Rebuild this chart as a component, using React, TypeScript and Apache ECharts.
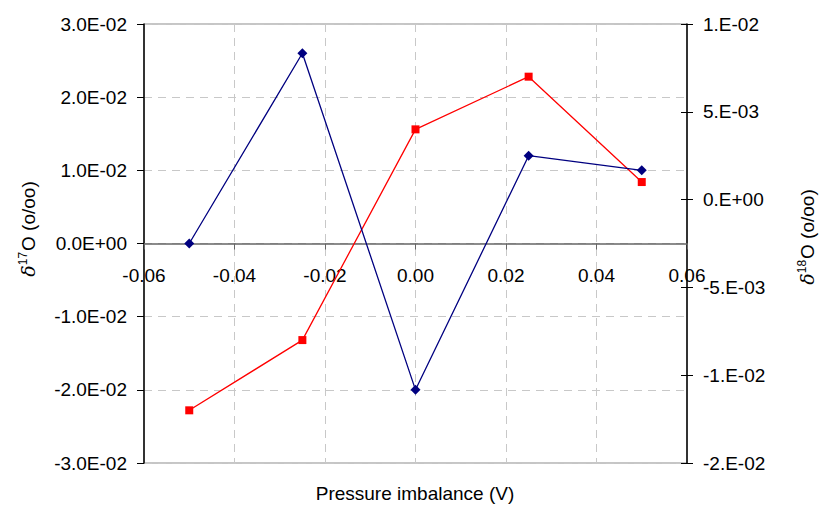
import React, { useEffect, useRef } from "react";
import * as echarts from "echarts";

const xValues = [-0.05, -0.025, 0, 0.025, 0.05];
const d17O = [0, 0.026, -0.02, 0.012, 0.01];
const d18O = [-0.012, -0.008, 0.004, 0.007, 0.001];

const FONT = "'Liberation Sans', Arial, sans-serif";

function fmtLeft(v: number): string {
  if (Math.abs(v) < 1e-12) return "0.0E+00";
  const exp = Math.floor(Math.log10(Math.abs(v)) + 1e-9);
  const m = v / Math.pow(10, exp);
  const ms = (Math.sign(m) * Math.round(Math.abs(m) * 10 + 1e-6) / 10).toFixed(1);
  const es = (exp < 0 ? "-" : "+") + String(Math.abs(exp)).padStart(2, "0");
  return ms + "E" + es;
}

function fmtRight(v: number): string {
  if (Math.abs(v) < 1e-12) return "0.E+00";
  let exp = Math.floor(Math.log10(Math.abs(v)) + 1e-9);
  let m = Math.abs(v) / Math.pow(10, exp);
  let r = Math.round(m + 1e-6);
  if (r >= 10) { r = 1; exp += 1; }
  const es = (exp < 0 ? "-" : "+") + String(Math.abs(exp)).padStart(2, "0");
  return (v < 0 ? "-" : "") + r + ".E" + es;
}

const nameRich = {
  d: { fontSize: 19, fontStyle: "italic", fontFamily: "'DejaVu Serif', serif", fill: "#000", color: "#000" },
  s: { fontSize: 12, fontFamily: FONT, fill: "#000", color: "#000", padding: [0, 1, 10, 0] },
  t: { fontSize: 19, fontFamily: FONT, fill: "#000", color: "#000" },
};

const GRID_TOP = 24;
const GRID_BOTTOM = 44;
const PLOT_H = 507 - GRID_TOP - GRID_BOTTOM;

export default function App() {
  const ref = useRef<HTMLDivElement>(null);
  useEffect(() => {
    if (!ref.current) return;
    const chart = echarts.init(ref.current, null, { renderer: "svg", width: 820, height: 507 });
    const gridDash = { color: "#c8c8c8", type: [8, 6] as any, width: 1 };
    chart.setOption({
      animation: false,
      backgroundColor: "#ffffff",
      textStyle: { fontFamily: FONT },
      grid: { left: 144, right: 133, top: GRID_TOP, bottom: GRID_BOTTOM, show: true, borderColor: "#8c8c8c", borderWidth: 1 },
      xAxis: {
        type: "value",
        position: "bottom",
        offset: -PLOT_H / 2,
        min: -0.06,
        max: 0.06,
        interval: 0.02,
        axisLine: { show: true, onZero: false, lineStyle: { color: "#666666", width: 1.5 } },
        axisTick: { show: true, length: 6, lineStyle: { color: "#666666" } },
        axisLabel: { margin: 22, color: "#000", fontSize: 19, fontFamily: FONT, formatter: (v: number) => v.toFixed(2) },
        splitLine: { show: true, lineStyle: gridDash },
      },
      yAxis: [
        {
          type: "value",
          position: "left",
          min: -0.03,
          max: 0.03,
          interval: 0.01,
          axisLine: { show: true, onZero: false, lineStyle: { color: "#000", width: 1.5 } },
          axisTick: { show: true, length: 7, lineStyle: { color: "#000" } },
          axisLabel: { margin: 17, color: "#000", fontSize: 19, fontFamily: FONT, formatter: fmtLeft },
          splitLine: { show: true, lineStyle: gridDash },
        },
        {
          type: "value",
          position: "right",
          min: -0.015,
          max: 0.01,
          interval: 0.005,
          axisLine: { show: true, onZero: false, lineStyle: { color: "#000", width: 1.5 } },
          axisTick: { show: true, length: 6, lineStyle: { color: "#000" } },
          axisLabel: { margin: 16, color: "#000", fontSize: 19, fontFamily: FONT, formatter: fmtRight },
          splitLine: { show: false },
        },
        {
          type: "value",
          position: "right",
          min: -0.015,
          max: 0.01,
          interval: 0.005,
          axisLine: { show: false, onZero: false },
          axisTick: { show: true, inside: true, length: 6, lineStyle: { color: "#000" } },
          axisLabel: { show: false },
          splitLine: { show: false },
        },
      ],
      graphic: [
        {
          type: "text",
          x: 415,
          y: 484,
          style: { text: "Pressure imbalance (V)", fontSize: 19, fontFamily: FONT, fill: "#000", align: "center" },
        },
        {
          type: "text",
          x: 28,
          y: 229,
          rotation: Math.PI / 2,
          style: { text: "{d|δ}{s|17}{t|O (o/oo)}", rich: nameRich, align: "center", verticalAlign: "middle" },
        },
        {
          type: "text",
          x: 807,
          y: 237,
          rotation: Math.PI / 2,
          style: { text: "{d|δ}{s|18}{t|O (o/oo)}", rich: nameRich, align: "center", verticalAlign: "middle" },
        },
      ],
      series: [
        {
          name: "d17O",
          type: "line",
          yAxisIndex: 0,
          data: xValues.map((x, i) => [x, d17O[i]]),
          symbol: "diamond",
          symbolSize: 10,
          itemStyle: { color: "#000080" },
          lineStyle: { color: "#000080", width: 1.3 },
          z: 3,
        },
        {
          name: "d18O",
          type: "line",
          yAxisIndex: 1,
          data: xValues.map((x, i) => [x, d18O[i]]),
          symbol: "rect",
          symbolSize: 8,
          itemStyle: { color: "#ff0000" },
          lineStyle: { color: "#ff0000", width: 1.3 },
          z: 2,
        },
      ],
    });
    return () => chart.dispose();
  }, []);
  return <div ref={ref} style={{ position: "fixed", left: 0, top: 0, width: 820, height: 507 }} />;
}
